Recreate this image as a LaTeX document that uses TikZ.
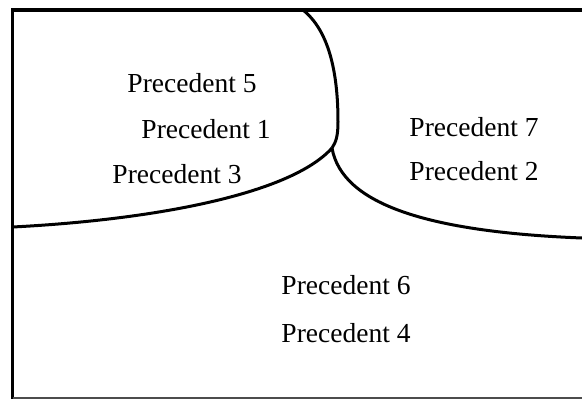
\documentclass[tikz,border=0pt]{standalone}
\usepackage{fontspec}
\setmainfont{Liberation Serif}
\usetikzlibrary{positioning}

\begin{document}
\begin{tikzpicture}[x=1pt,y=-1pt,
  frame/.style={line width=3.5pt},
  border/.style={line width=3pt},
  prec/.style={font=\fontsize{27.5}{30}\selectfont, inner sep=0pt},
  node distance=26pt]

  \useasboundingbox (0,0) rectangle (582,399);

  % Frame
  \draw[frame] (582,10) -- (12.5,10) -- (12.5,399);
  \draw[line width=1.5pt, black!70] (12.5,398) -- (582,398);

  % Region borders
  \coordinate (top)  at (303,10);
  \coordinate (meet) at (332,148);
  \coordinate (lend) at (12.5,227);
  \coordinate (rend) at (582,238);

  \draw[border] (top) .. controls (328,30) and (338,70) .. (338,122)
                      .. controls (338,136) and (336,142) .. (meet);
  \draw[border] (meet) .. controls (290,195) and (150,220) .. (lend);
  \draw[border] (meet) .. controls (342,205) and (430,232) .. (rend);

  % Precedents
  \node[prec] (p5) at (192,83) {Precedent 5};
  \node[prec, below=of p5, xshift=14pt]  (p1) {Precedent 1};
  \node[prec, below=of p1, xshift=-29pt] (p3) {Precedent 3};
  \node[prec] (p7) at (474,127) {Precedent 7};
  \node[prec, below=24pt of p7] (p2) {Precedent 2};
  \node[prec] (p6) at (346,285) {Precedent 6};
  \node[prec, below=28pt of p6] (p4) {Precedent 4};

\end{tikzpicture}
\end{document}
